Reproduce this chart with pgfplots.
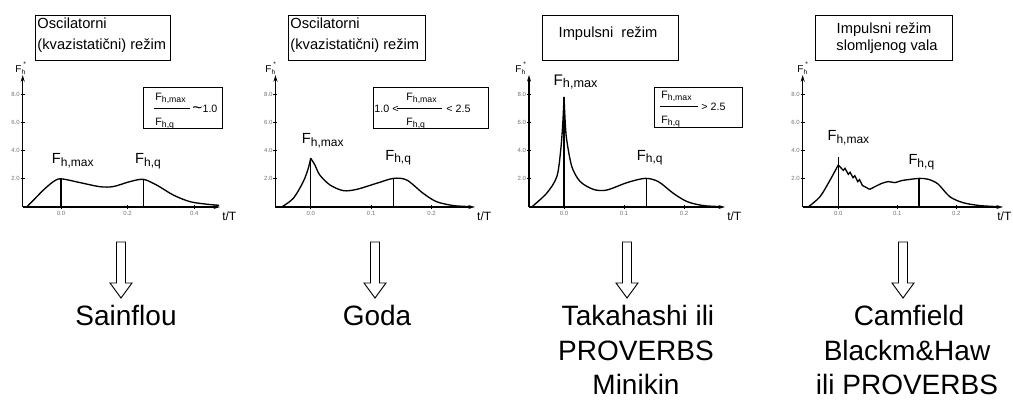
\documentclass[border=0pt]{standalone}
\usepackage{pgfplots}
\pgfplotsset{compat=1.18}
\usepackage{fontspec}
\setmainfont{Liberation Sans}
\usetikzlibrary{arrows.meta}

% F with a lowered index: sizes of F and index, shift, index text
\newcommand{\Fl}[4]{{\fontsize{#1}{#1}\selectfont F}\raisebox{#3}{\fontsize{#2}{#2}\selectfont #4}}

\tikzset{
  lab/.style={anchor=base west, inner sep=0pt},
  tT/.style={anchor=north west, inner sep=0pt, xshift=1.5pt, yshift=-3.5pt, font=\fontsize{9}{9}\selectfont},
}
\pgfplotsset{
  panel/.style={
    scale only axis, height=99pt, anchor=south west,
    axis lines=left, enlargelimits=false, clip=false,
    axis line style={line width=0.9pt,-{Stealth[length=5pt,width=3pt]}},
    ymin=0, ymax=9.36,
    ytick={2,4,6,8}, yticklabels={2.0,4.0,6.0,8.0},
    tick align=center, major tick length=3pt,
    tick style={line width=0.6pt, black},
    tick label style={font=\fontsize{4.5}{5}\selectfont, text=black!55},
    yticklabel style={inner sep=0.5pt},
    xticklabel style={inner sep=1.5pt},
  },
  curve/.style={black, line width=1pt, no marks},
  stem/.style={ycomb, black, line width=1pt, no marks},
}

\begin{document}
\begin{tikzpicture}
\path[use as bounding box] (0,0) rectangle (759.75pt,-300pt);

% panel 1: oscilatorni, Sainflou
\begin{axis}[panel, at={(17.03pt,-155.25pt)}, width=148pt,
  xmin=-0.115, xmax=0.4775, xtick={0,0.2,0.4}, xticklabels={0.0,0.2,0.4}]
\addplot[curve, smooth] coordinates {(-0.103,0) (-0.08,0.55) (-0.053,1.2) (-0.023,1.8) (0,2.0) (0.057,1.73) (0.117,1.44) (0.157,1.45) (0.207,1.8) (0.247,1.96) (0.287,1.56) (0.337,0.85) (0.387,0.38) (0.437,0.2) (0.475,0.12)};
\addplot[stem] coordinates {(0,2.0) (0.247,1.96)};
\node[lab] at (axis cs:-0.028,3.05) {\Fl{11}{9}{-2pt}{h,max}};
\node[lab] at (axis cs:0.222,3.05) {\Fl{11}{9}{-2pt}{h,q}};
\node[tT] at (rel axis cs:1,0) {t/T};
\end{axis}

% panel 2: oscilatorni, Goda
\begin{axis}[panel, at={(206.6pt,-155.25pt)}, width=149.6pt,
  xmin=-0.0582, xmax=0.2716, xtick={0,0.1,0.2}, xticklabels={0.0,0.1,0.2}]
\addplot[curve, smooth] coordinates {(-0.048,0) (-0.0288,0.61) (-0.0122,1.8) (-0.004,2.74) (0,3.45)};
\addplot[curve, smooth] coordinates {(0,3.45) (0.007,2.98) (0.015,2.27) (0.032,1.56) (0.054,1.16) (0.076,1.25) (0.109,1.68) (0.137,2.03) (0.159,1.91) (0.186,0.97) (0.208,0.38) (0.236,0.1) (0.263,0.03)};
\addplot[stem] coordinates {(0,3.45) (0.137,2.03)};
\node[lab] at (axis cs:-0.0149,4.47) {\Fl{11}{9}{-2pt}{h,max}};
\node[lab] at (axis cs:0.123,3.33) {\Fl{11}{9}{-2pt}{h,q}};
\node[tT] at (rel axis cs:1,0) {t/T};
\end{axis}

% panel 3: impulsni, Takahashi
\begin{axis}[panel, at={(396.75pt,-155.25pt)}, width=147pt,
  xmin=-0.0583, xmax=0.268, xtick={0,0.1,0.2}, xticklabels={0.0,0.1,0.2}]
\addplot[curve, smooth] coordinates {(-0.054,0) (-0.029,0.97) (-0.012,2.15) (-0.0055,4.04) (-0.002,6.0) (0,7.8)};
\addplot[curve, smooth] coordinates {(0,7.8) (0.002,6.0) (0.0045,4.75) (0.013,2.86) (0.027,1.8) (0.049,1.25) (0.071,1.2) (0.105,1.73) (0.135,2.03) (0.157,1.8) (0.182,0.97) (0.205,0.38) (0.232,0.1) (0.26,0.03)};
\addplot[stem, line width=1.7pt] coordinates {(0,7.8)};
\addplot[stem] coordinates {(0.137,2.03)};
\node[lab] at (axis cs:-0.0178,8.65) {\Fl{11.5}{9.5}{-2pt}{h,max}};
\node[lab] at (axis cs:0.121,3.33) {\Fl{11}{9}{-2pt}{h,q}};
\node[tT] at (rel axis cs:1,0) {t/T};
\end{axis}

% panel 4: slomljeni val, Camfield
\begin{axis}[panel, at={(602.0pt,-155.25pt)}, width=150.2pt,
  xmin=-0.0603, xmax=0.279, xtick={0,0.1,0.2}, xticklabels={0.0,0.1,0.2}]
\addplot[curve, smooth] coordinates {(-0.051,0) (-0.031,0.73) (-0.014,1.9) (0,2.98)};
\addplot[curve] coordinates {(0,2.98) (0.0085,2.6) (0.0114,2.74) (0.017,2.32) (0.020,2.46) (0.025,2.08) (0.028,2.22) (0.033,1.8) (0.036,1.94) (0.041,1.52) (0.046,1.42) (0.053,1.25)};
\addplot[curve, smooth] coordinates {(0.053,1.25) (0.062,1.44) (0.074,1.68) (0.085,1.8) (0.096,1.73) (0.107,1.87) (0.122,1.96) (0.138,2.03) (0.153,1.96) (0.169,1.63) (0.189,0.73) (0.212,0.3) (0.24,0.1) (0.268,0.03)};
\addplot[stem] coordinates {(0,3.57) (0.137,2.03)};
\node[lab] at (axis cs:-0.0186,4.70) {\Fl{11}{9}{-2pt}{h,max}};
\node[lab] at (axis cs:0.1186,2.98) {\Fl{11}{9}{-2pt}{h,q}};
\node[tT, anchor=north east, xshift=5pt] at (rel axis cs:1,0) {t/T};
\end{axis}

% boxes, arrows and method names, in pixels from the top left
\begin{scope}[x=0.75pt, y=-0.75pt, line width=0.7pt]
\foreach \xf in {15,265,515,797}
  \node[lab] at (\xf,72) {\fontsize{7.5}{7.5}\selectfont F\rlap{\raisebox{-1.5pt}{\fontsize{5}{5}\selectfont h}}\raisebox{4pt}{\fontsize{5}{5}\selectfont\ *}};

\draw (35,15) rectangle (170,60);
\node[lab, font=\fontsize{11}{11}\selectfont] at (37,28) {Oscilatorni};
\node[lab, font=\fontsize{11}{11}\selectfont] at (37,49) {(kvazistatični) režim};
\draw (288,15) rectangle (425,60);
\node[lab, font=\fontsize{11}{11}\selectfont] at (290,28) {Oscilatorni};
\node[lab, font=\fontsize{11}{11}\selectfont] at (290,49) {(kvazistatični) režim};
\draw (542,15) rectangle (678,60);
\node[anchor=base, inner sep=0pt, font=\fontsize{11}{11}\selectfont] at (608,37) {Impulsni\ \ režim};
\draw (815,15) rectangle (952,60);
\node[anchor=base, inner sep=0pt, font=\fontsize{11}{11}\selectfont] at (884,33) {Impulsni režim};
\node[anchor=base, inner sep=0pt, font=\fontsize{11}{11}\selectfont] at (887,50) {slomljenog vala};

% ratio boxes
\draw (143,87) rectangle (222,128);
\node[lab] at (155,100) {\Fl{8}{6.5}{-1.5pt}{h,max}};
\draw (154,108) -- (190,108);
\node[lab] at (155,125) {\Fl{8}{6.5}{-1.5pt}{h,q}};
\node[lab, font=\fontsize{8}{8}\selectfont] at (192,112) {\raisebox{-1pt}{\fontsize{13}{13}\selectfont\textasciitilde}1.0};

\draw (373,87) rectangle (488,128);
\node[lab, font=\fontsize{8}{8}\selectfont] at (374,112) {1.0 <};
\node[lab] at (406,100) {\Fl{8}{6.5}{-1.5pt}{h,max}};
\draw (397,108) -- (442,108);
\node[lab] at (406,125) {\Fl{8}{6.5}{-1.5pt}{h,q}};
\node[lab, font=\fontsize{8}{8}\selectfont] at (446,112) {< 2.5};

\draw (654,87) rectangle (742,127);
\node[lab] at (661,98) {\Fl{8}{6.5}{-1.5pt}{h,max}};
\draw (660,106.5) -- (698,106.5);
\node[lab] at (661,123) {\Fl{8}{6.5}{-1.5pt}{h,q}};
\node[lab, font=\fontsize{8}{8}\selectfont] at (701,110) {> 2.5};

% hollow arrows
\foreach \c in {121,375,627,903}
  \draw[line width=0.7pt] (\c-4.5,242) -- (\c+4.5,242) -- (\c+4.5,283) -- (\c+11,283)
    -- (\c,298) -- (\c-11,283) -- (\c-4.5,283) -- cycle;

% method names
\tikzset{mname/.style={anchor=base, inner sep=0pt, font=\fontsize{21}{25}\selectfont}}
\node[mname] at (126,325) {Sainflou};
\node[mname] at (377,325) {Goda};
\node[mname] at (638,325) {Takahashi ili};
\node[mname] at (636,360) {PROVERBS};
\node[mname] at (636,394) {Minikin};
\node[mname] at (909,325) {Camfield};
\node[mname] at (907,360) {Blackm\&Haw};
\node[mname] at (907,394) {ili PROVERBS};
\end{scope}
\end{tikzpicture}
\end{document}
